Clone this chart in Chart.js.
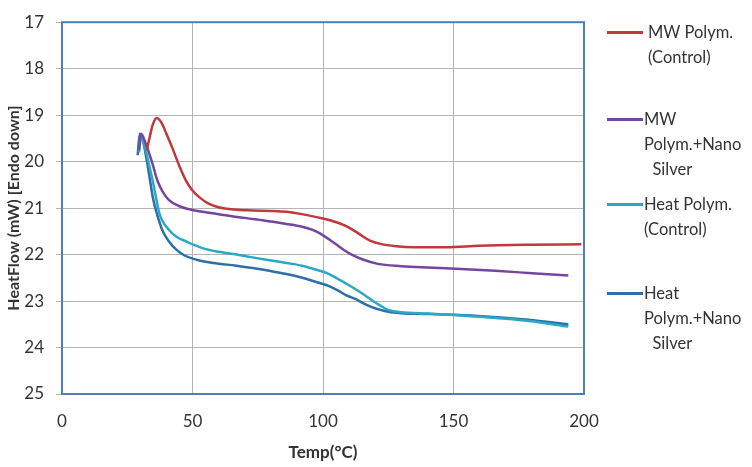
<!DOCTYPE html>
<html>
<head>
<meta charset="utf-8">
<script src="https://cdn.jsdelivr.net/npm/chart.js@4.4.1/dist/chart.umd.min.js"></script>
<style>
  html, body { margin: 0; padding: 0; background: #fff; }
  #wrap { position: relative; width: 752px; height: 467px; }
  #legend { position: absolute; left: 0; top: 0; font-family: Lato, "Open Sans", sans-serif; font-size: 16.5px; color: #333; }
  .item { position: absolute; left: 607px; }
  .swatch { position: absolute; left: 0; width: 36px; height: 3px; }
  .txt { position: absolute; white-space: pre; line-height: 25px; }
</style>
</head>
<body>
<div id="wrap">
  <canvas id="dscChart" width="752" height="467"></canvas>
  <div id="legend"></div>
</div>
<script>
// series names and colours
const seriesNames = ['MW Polym.\n(Control)', 'MW\nPolym.+Nano\n  Silver', 'Heat Polym.\n(Control)', 'Heat\nPolym.+Nano\n  Silver'];
const seriesColors = ['#c0393b', '#7446a0', '#2aa9c6', '#2c6fa9'];

// temperature (°C) and heat flow (mW)
const mwCtrlX = [32.5, 33.5, 34.8, 36.3, 38, 40, 42.4, 45, 47.7, 50, 52.7, 56, 60, 66, 73, 80, 86, 92, 98, 102, 106, 110, 114, 118, 122, 128, 135, 147, 160, 179, 199];
const mwCtrlY = [19.75, 19.5, 19.2, 19.06, 19.15, 19.4, 19.72, 20.1, 20.43, 20.62, 20.77, 20.9, 20.98, 21.03, 21.05, 21.06, 21.08, 21.13, 21.2, 21.25, 21.32, 21.42, 21.56, 21.7, 21.77, 21.82, 21.84, 21.84, 21.81, 21.79, 21.78];

const mwNanoX = [29.5, 30.3, 32, 34.8, 36.5, 38.5, 41, 45, 50, 54, 60, 67, 74, 80, 86, 92, 96, 99, 102, 105, 108, 111, 115, 121, 130, 140, 149, 166, 180, 194];
const mwNanoY = [19.75, 19.4, 19.6, 20.07, 20.4, 20.64, 20.83, 20.96, 21.04, 21.08, 21.13, 21.19, 21.24, 21.29, 21.34, 21.4, 21.47, 21.55, 21.66, 21.78, 21.9, 22.0, 22.1, 22.2, 22.25, 22.28, 22.3, 22.35, 22.4, 22.45];

const heatCtrlX = [29.5, 30.3, 32, 34.8, 37.4, 41.2, 44, 47.7, 53.8, 60, 66.8, 73, 79.4, 86, 92, 97, 101, 105, 110, 114, 118.7, 122, 125, 130, 140, 150, 160, 170, 179, 194];
const heatCtrlY = [19.8, 19.45, 19.75, 20.43, 21.13, 21.48, 21.62, 21.72, 21.86, 21.94, 22.0, 22.06, 22.12, 22.18, 22.24, 22.32, 22.39, 22.5, 22.66, 22.8, 22.98, 23.1, 23.19, 23.24, 23.27, 23.3, 23.34, 23.38, 23.43, 23.55];

const heatNanoX = [29, 29.8, 31, 33, 34.8, 36.5, 38.5, 41, 43.9, 47, 51.5, 58, 66.8, 73, 79.4, 86, 92, 98, 102.3, 106, 109, 112.6, 115.5, 118.7, 122, 125, 130, 140.5, 159.5, 178.6, 194];
const heatNanoY = [19.86, 19.4, 19.55, 20.15, 20.77, 21.15, 21.48, 21.72, 21.9, 22.02, 22.11, 22.18, 22.24, 22.29, 22.35, 22.42, 22.5, 22.6, 22.68, 22.78, 22.88, 22.96, 23.05, 23.13, 23.19, 23.23, 23.26, 23.28, 23.32, 23.4, 23.5];

const xTicks = [0, 50, 100, 150, 200];
const yTicks = [17, 18, 19, 20, 21, 22, 23, 24, 25];

const allX = [mwCtrlX, mwNanoX, heatCtrlX, heatNanoX];
const allY = [mwCtrlY, mwNanoY, heatCtrlY, heatNanoY];

const datasets = seriesNames.map((name, i) => ({
    label: name.replace(/\n\s*/g, ' '),
    data: allX[i].map((x, j) => ({ x: x, y: allY[i][j] })),
    borderColor: seriesColors[i],
    borderWidth: 2.5,
    pointRadius: 0,
    fill: false,
    cubicInterpolationMode: 'monotone'
}));

const fontFamily = 'Lato, "Open Sans", sans-serif';
const tickFont = { family: fontFamily, size: 17 };
const gridColor = '#b4b4b4';

// blue frame round the plot area
const frame = {
    id: 'frame',
    afterDraw(chart) {
        const a = chart.chartArea, c = chart.ctx;
        c.save();
        c.strokeStyle = '#4a7fbc';
        c.lineWidth = 2;
        c.strokeRect(a.left, a.top, a.right - a.left, a.bottom - a.top);
        c.restore();
    }
};

new Chart(document.getElementById('dscChart'), {
    type: 'line',
    data: { datasets: datasets },
    plugins: [frame],
    options: {
        responsive: false,
        animation: false,
        layout: { padding: { left: 0, top: 14, right: 168, bottom: 0 } },
        plugins: { legend: { display: false }, tooltip: { enabled: false } },
        scales: {
            x: {
                type: 'linear',
                min: 0, max: 200,
                afterBuildTicks: s => { s.ticks = xTicks.map(v => ({ value: v })); },
                afterFit: s => { s.height = 73; },
                grid: { color: gridColor, lineWidth: 1, drawTicks: false },
                border: { display: false },
                ticks: { font: tickFont, color: '#333', padding: 17 },
                title: { display: true, text: 'Temp(°C)', font: { family: fontFamily, size: 17, weight: 'bold' }, color: '#333', padding: { top: 4 } }
            },
            y: {
                type: 'linear',
                reverse: true,
                min: 17, max: 25,
                afterBuildTicks: s => { s.ticks = yTicks.map(v => ({ value: v })); },
                afterFit: s => { s.width = 62; },
                grid: { color: gridColor, lineWidth: 1, tickLength: 6 },
                border: { display: false },
                ticks: { font: tickFont, color: '#333', padding: 12 },
                title: { display: true, text: 'HeatFlow (mW) [Endo down]', font: { family: fontFamily, size: 16, weight: 'bold' }, color: '#333', padding: { bottom: 0 } }
            }
        }
    }
});

// legend at the right, one entry per series
const legendTops = [32, 119, 204, 293];
const legend = document.getElementById('legend');
seriesNames.forEach((name, i) => {
    const item = document.createElement('div');
    item.className = 'item';
    item.style.top = legendTops[i] + 'px';
    const sw = document.createElement('div');
    sw.className = 'swatch';
    sw.style.background = seriesColors[i];
    sw.style.top = '-1px';
    const t = document.createElement('div');
    t.className = 'txt';
    t.style.left = (i === 0 ? 41 : 37) + 'px';
    t.style.top = '-12px';
    t.textContent = name;
    item.appendChild(sw);
    item.appendChild(t);
    legend.appendChild(item);
});
</script>
</body>
</html>
